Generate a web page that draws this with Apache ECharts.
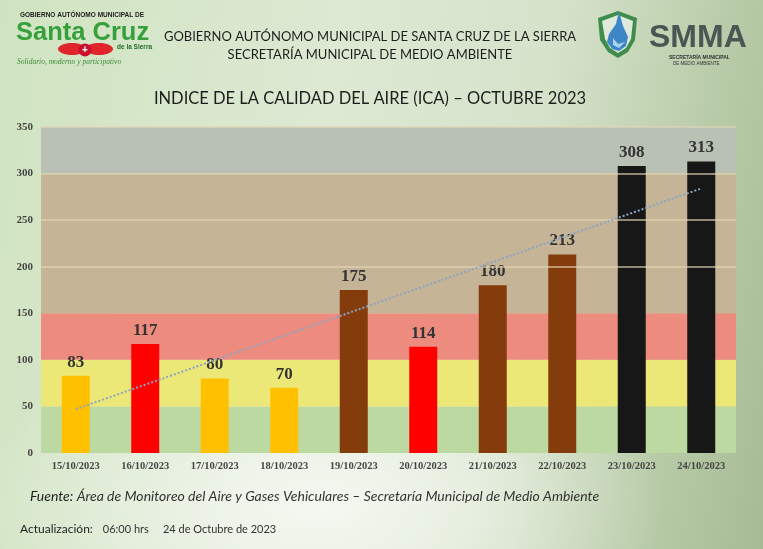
<!DOCTYPE html>
<html>
<head>
<meta charset="utf-8">
<script src="https://cdn.jsdelivr.net/npm/echarts@6/dist/echarts.min.js"></script>
<style>
  html, body { margin: 0; padding: 0; }
  body {
    width: 763px; height: 549px; overflow: hidden;
    background:
      radial-gradient(ellipse 60% 45% at 42% 92%, rgba(246,249,243,0.95), rgba(246,249,243,0) 75%),
      linear-gradient(100deg, #d0e4c1 0%, #dde9d3 40%, #d6e3cb 65%, #b9cca9 85%, #a6bb95 100%);
  }
  #chart { width: 763px; height: 549px; }
</style>
</head>
<body>
<div id="chart"></div>
<script>
// datos
var fechas = ['15/10/2023', '16/10/2023', '17/10/2023', '18/10/2023', '19/10/2023',
              '20/10/2023', '21/10/2023', '22/10/2023', '23/10/2023', '24/10/2023'];
var ica = [83, 117, 80, 70, 175, 114, 180, 213, 308, 313];
var colores = ['#ffc000', '#ff0000', '#ffc000', '#ffc000', '#843c0c',
               '#ff0000', '#843c0c', '#843c0c', '#171717', '#171717'];
// franjas de calidad: [desde, hasta, color]
var franjas = [
  [0, 50, '#bcd9a2'],
  [50, 100, '#ece878'],
  [100, 150, '#ee8b7f'],
  [150, 300, '#c5b495'],
  [300, 350, '#b9c1b5']
];
var lineasClaras = [200, 250, 300, 350];
// linea de tendencia (extremos leidos)
var tendencia = [47, 284];
var yTicks = [0, 50, 100, 150, 200, 250, 300, 350];

var chart = echarts.init(document.getElementById('chart'));

var serif = '"Liberation Serif", "DejaVu Serif", serif';
var sans = 'Lato, "Open Sans", sans-serif';

function txt(x, y, text, font, fill, align) {
  return { type: 'text', x: x, y: y, style: { text: text, font: font, fill: fill, textAlign: align || 'left' } };
}

var option = {
  backgroundColor: 'transparent',
  animation: false,
  grid: { left: 41, right: 27, top: 127, bottom: 96 },
  xAxis: {
    type: 'category',
    data: fechas,
    axisLine: { show: false },
    axisTick: { show: false },
    axisLabel: { fontFamily: serif, fontWeight: 'bold', fontSize: 10.5, color: '#454545', margin: 8 }
  },
  yAxis: {
    type: 'value',
    min: yTicks[0],
    max: yTicks[yTicks.length - 1],
    interval: 50,
    splitLine: { show: false },
    axisLine: { show: false },
    axisTick: { show: false },
    axisLabel: { fontFamily: serif, fontWeight: 'bold', fontSize: 11, color: '#454545', margin: 8 }
  },
  series: [
    {
      // fondo con franjas
      type: 'line',
      data: [],
      z: 1,
      silent: true,
      markArea: {
        silent: true,
        data: franjas.map(function (f) {
          return [{ yAxis: f[0], itemStyle: { color: f[2] } }, { yAxis: f[1] }];
        })
      },
      markLine: {
        silent: true,
        symbol: 'none',
        label: { show: false },
        lineStyle: { color: 'rgba(228,214,182,0.8)', type: 'solid', width: 1.5 },
        data: lineasClaras.map(function (v) { return { yAxis: v }; })
      }
    },
    {
      type: 'bar',
      z: 3,
      barWidth: 28,
      data: ica.map(function (v, i) {
        return { value: v, itemStyle: { color: colores[i] } };
      }),
      label: {
        show: true,
        position: 'top',
        distance: 5,
        fontFamily: serif,
        fontWeight: 'bold',
        fontSize: 17,
        color: '#333333'
      },
      markLine: {
        silent: true,
        symbol: 'none',
        label: { show: false },
        lineStyle: { color: '#8aa5c4', type: 'dotted', width: 2 },
        data: [[
          { coord: [fechas[0], tendencia[0]] },
          { coord: [fechas[fechas.length - 1], tendencia[1]] }
        ]]
      }
    }
  ],
  graphic: [
    // encabezado
    txt(370, 30, 'GOBIERNO AUTÓNOMO MUNICIPAL DE SANTA CRUZ DE LA SIERRA', '13px ' + sans, '#1e1e1e', 'center'),
    txt(370, 48, 'SECRETARÍA MUNICIPAL DE MEDIO AMBIENTE', '13px ' + sans, '#1e1e1e', 'center'),
    txt(370, 90, 'INDICE DE LA CALIDAD DEL AIRE (ICA) – OCTUBRE 2023', '16.5px ' + sans, '#1e1e1e', 'center'),

    // logo izquierdo
    txt(20, 12, 'GOBIERNO AUTÓNOMO MUNICIPAL DE', 'bold 6.5px "Liberation Sans", sans-serif', '#222'),
    txt(16, 20, 'Santa Cruz', 'bold 25.5px "Liberation Sans", sans-serif', '#35a03c'),
    txt(117, 44, 'de la Sierra', 'bold 6.5px "Liberation Sans", sans-serif', '#1e6b2a'),
    { type: 'ellipse', shape: { cx: 72, cy: 49, rx: 14, ry: 6 }, style: { fill: '#e0262a' } },
    { type: 'ellipse', shape: { cx: 99, cy: 49, rx: 14, ry: 6 }, style: { fill: '#e0262a' } },
    { type: 'circle', shape: { cx: 85, cy: 50, r: 6.5 }, style: { fill: '#c8102e' } },
    txt(85, 45, '+', 'bold 10px sans-serif', '#fff', 'center'),
    txt(17, 58, 'Solidario, moderno y participativo', 'italic 7.5px "Liberation Serif", serif', '#3f8a3a'),

    // logo SMMA
    { type: 'polygon', shape: { points: [[598, 18], [618, 11], [637, 18], [635, 40], [628, 52], [618, 58], [608, 52], [600, 40]] }, style: { fill: '#3f8d4c' } },
    { type: 'polygon', shape: { points: [[602, 21], [618, 15], [633, 21], [631, 39], [626, 48], [618, 53], [610, 48], [605, 39]] }, style: { fill: '#dfe9dc' } },
    { type: 'polygon', shape: { points: [[619, 11], [616, 24], [609, 34], [607, 42], [612, 49], [619, 51], [626, 46], [628, 37], [623, 26]] }, style: { fill: '#3f86c6' } },
    { type: 'polygon', shape: { points: [[613, 38], [618, 44], [625, 42], [619, 48], [613, 45]] }, style: { fill: '#a8d3ee' } },
    txt(649, 22, 'SMMA', 'bold 32px "Liberation Sans", sans-serif', '#4a5653'),
    txt(669, 55, 'SECRETARÍA MUNICIPAL', 'bold 5px "Liberation Sans", sans-serif', '#333'),
    txt(673, 61, 'DE MEDIO AMBIENTE', '4.5px "Liberation Sans", sans-serif', '#333'),

    // pie
    { type: 'text', x: 30, y: 489, style: { rich: {
        a: { font: 'italic 14px ' + sans, fill: '#1e1e1e' },
        b: { font: 'italic 14px ' + sans, fill: '#333' }
      }, text: '{a|Fuente:} {b|Área de Monitoreo del Aire y Gases Vehiculares – Secretaría Municipal de Medio Ambiente}' } },
    { type: 'text', x: 20, y: 523, style: { rich: {
        a: { font: '12px ' + sans, fill: '#1e1e1e' },
        b: { font: '11px ' + sans, fill: '#333' }
      }, text: '{a|Actualización:}   {b|06:00 hrs     24 de Octubre de 2023}' } }
  ]
};

chart.setOption(option);
</script>
</body>
</html>
